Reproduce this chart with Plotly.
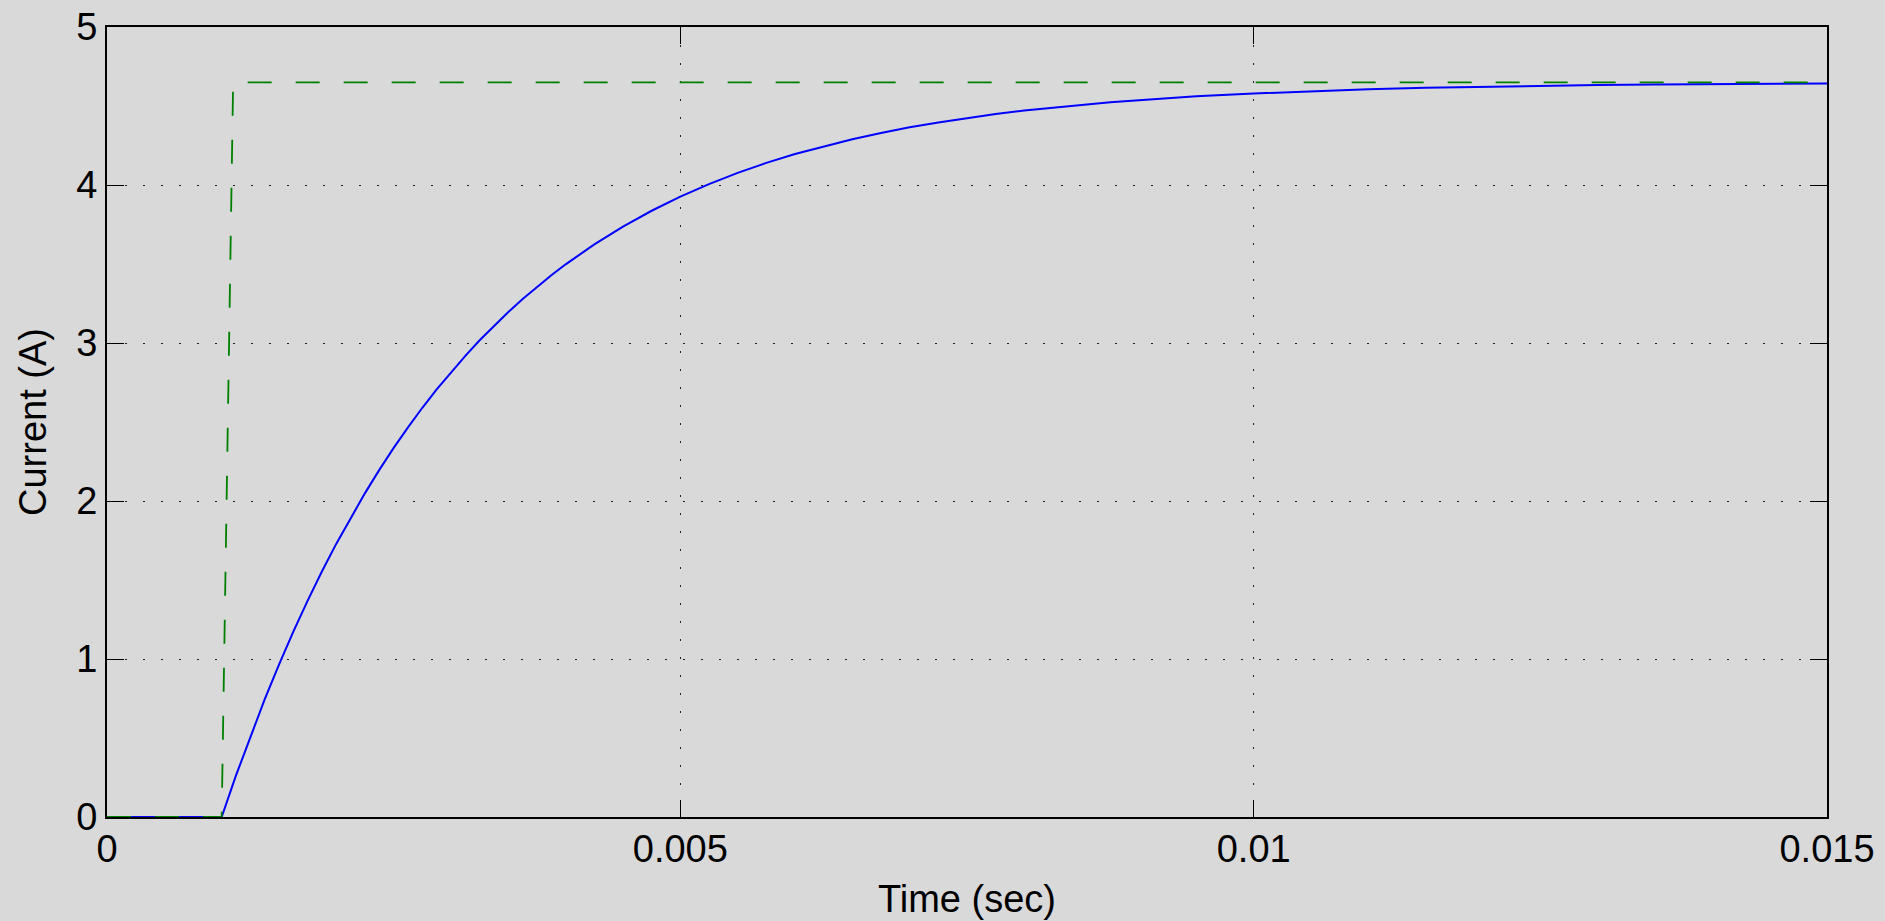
import plotly.graph_objects as go

time_current = [0.0, 0.001, 0.001125, 0.00125, 0.001375, 0.0015, 0.001625, 0.00175, 0.001875,
                0.002, 0.002125, 0.00225, 0.002375, 0.0025, 0.002625, 0.00275, 0.002875,
                0.003, 0.003125, 0.00325, 0.003375, 0.0035, 0.003625, 0.00375, 0.003875,
                0.004, 0.00425, 0.0045, 0.00475, 0.005, 0.00525, 0.0055, 0.00575, 0.006,
                0.00625, 0.0065, 0.00675, 0.007, 0.00725, 0.0075, 0.00775, 0.008, 0.00825,
                0.0085, 0.00875, 0.009, 0.0095, 0.010, 0.0105, 0.011, 0.0115, 0.012,
                0.0125, 0.013, 0.0135, 0.014, 0.0145, 0.015]
current = [0.0, 0.0, 0.263, 0.510, 0.744, 0.965, 1.173, 1.369, 1.555,
           1.730, 1.894, 2.050, 2.197, 2.336, 2.466, 2.590, 2.706,
           2.816, 2.919, 3.017, 3.109, 3.196, 3.279, 3.356, 3.429,
           3.498, 3.624, 3.737, 3.837, 3.926, 4.006, 4.077, 4.140, 4.196,
           4.245, 4.290, 4.329, 4.365, 4.396, 4.424, 4.449, 4.471, 4.490,
           4.508, 4.524, 4.537, 4.561, 4.579, 4.594, 4.606, 4.615, 4.622,
           4.628, 4.633, 4.636, 4.639, 4.641, 4.643]

# Reference step (green, dashed)
time_ref = [0.0, 0.001, 0.0011, 0.015]
current_ref = [0.0, 0.0, 4.65, 4.65]

x_tickvals = [0, 0.005, 0.01, 0.015]
x_ticktext = ["0", "0.005", "0.01", "0.015"]
y_tickvals = [0, 1, 2, 3, 4, 5]
y_ticktext = ["0", "1", "2", "3", "4", "5"]

FONT = "Liberation Sans, Arial, Helvetica, sans-serif"
BG = "#d9d9d9"

fig = go.Figure()
fig.add_trace(go.Scatter(x=time_current, y=current, mode="lines",
                         line=dict(color="#0000ff", width=2), showlegend=False))
fig.add_trace(go.Scatter(x=time_ref, y=current_ref, mode="lines",
                         line=dict(color="#008000", width=1.8, dash="24px,24px"),
                         showlegend=False))

axis_common = dict(
    showline=True, linecolor="black", linewidth=2, mirror="ticks",
    ticks="inside", ticklen=17, tickwidth=1.2, tickcolor="black",
    showgrid=True, gridcolor="#222222", gridwidth=1.3, griddash="2px,16px",
    zeroline=False, automargin=False,
    tickfont=dict(family=FONT, size=38, color="black"),
)

fig.update_xaxes(range=[0, 0.015], tickmode="array", tickvals=x_tickvals,
                 ticktext=x_ticktext, ticklabelstandoff=-3,
                 title=dict(text="Time (sec)", font=dict(family=FONT, size=38, color="black"),
                            standoff=17),
                 **axis_common)
fig.update_yaxes(range=[0, 5], tickmode="array", tickvals=y_tickvals,
                 ticktext=y_ticktext, ticklabelstandoff=0,
                 title=dict(text="Current (A)", font=dict(family=FONT, size=38, color="black"),
                            standoff=18),
                 **axis_common)

fig.update_layout(
    width=1885, height=921,
    margin=dict(l=107, r=58, t=27, b=104, autoexpand=False),
    paper_bgcolor=BG, plot_bgcolor=BG,
    font=dict(family=FONT, size=38, color="black"),
)

fig.write_html(
    "out.html",
    config={"displayModeBar": False},
    post_script="document.body.style.margin='0';document.body.style.padding='0';"
                "document.body.style.background='#d9d9d9';"
                "document.documentElement.style.overflow='hidden';",
)
